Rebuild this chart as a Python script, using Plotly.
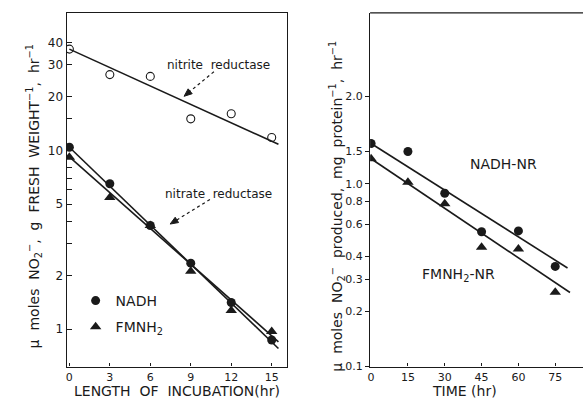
import math
import plotly.graph_objects as go

# ---------------- data ----------------
# Left panel: length of incubation (hr)
inc_hours = [0, 3, 6, 9, 12, 15]
nitrite_rate = [36.8, 26.5, 25.9, 15.0, 16.0, 11.8]
nadh_rate = [10.4, 6.5, 3.8, 2.34, 1.41, 0.87]
fmnh2_rate = [9.15, 5.45, 3.8, 2.11, 1.27, 0.97]
# fitted regression lines (end points)
left_fit_x = [0, 15.5]
nitrite_fit = [36.8, 10.8]
nadh_fit = [10.4, 0.78]
fmnh2_fit = [9.2, 0.85]

# Right panel: time (hr)
time_hours = [0, 15, 30, 45, 60, 75]
nadh_nr = [1.66, 1.50, 0.887, 0.546, 0.552, 0.353]
fmnh2_nr = [1.37, 1.02, 0.778, 0.449, 0.440, 0.255]
nadh_nr_fit_x = [0, 80]
nadh_nr_fit = [1.66, 0.346]
fmnh2_nr_fit_x = [0, 81]
fmnh2_nr_fit = [1.37, 0.254]

# tick labels
left_x_ticks = [0, 3, 6, 9, 12, 15]
left_y_tickvals = [1, 2, 5, 10, 20, 30, 40]
left_y_ticktext = ["1", "2", "5", "10", "20", "30", "40"]
left_y_minor = [3, 4, 6, 7, 8, 15]
right_x_ticks = [0, 15, 30, 45, 60, 75]
right_y_tickvals = [0.1, 0.2, 0.3, 0.4, 0.6, 0.8, 1.0, 1.5, 3.0]
right_y_ticktext = ["0.1", "0.2", "0.3", "0.4", "0.6", "0.8", "1.0", "1.5", "2.0"]

W, H = 583, 405
FONT = "DejaVu Sans"
INK = "#1a1a1a"
NB = "\u00a0"


def px(x):
    return x / W


def py(y):
    return 1 - y / H


fig = go.Figure()

# ---- left panel traces ----
for fit in (nitrite_fit, nadh_fit, fmnh2_fit):
    fig.add_trace(go.Scatter(x=left_fit_x, y=fit, mode="lines",
                             line=dict(color=INK, width=1.6), showlegend=False,
                             hoverinfo="skip", xaxis="x", yaxis="y"))
fig.add_trace(go.Scatter(x=inc_hours, y=nitrite_rate, mode="markers",
                         marker=dict(symbol="circle-open", size=8, color=INK,
                                     line=dict(width=1.1)),
                         showlegend=False, xaxis="x", yaxis="y"))
fig.add_trace(go.Scatter(x=inc_hours, y=nadh_rate, mode="markers", name="NADH",
                         legendgroup="a",
                         marker=dict(symbol="circle", size=9, color=INK),
                         xaxis="x", yaxis="y"))
fig.add_trace(go.Scatter(x=inc_hours, y=fmnh2_rate, mode="markers",
                         name="FMNH<sub>2</sub>", legendgroup="b",
                         marker=dict(symbol="triangle-up", size=10, color=INK),
                         xaxis="x", yaxis="y"))

# ---- right panel traces ----
fig.add_trace(go.Scatter(x=nadh_nr_fit_x, y=nadh_nr_fit, mode="lines",
                         line=dict(color=INK, width=1.6), showlegend=False,
                         hoverinfo="skip", xaxis="x2", yaxis="y2"))
fig.add_trace(go.Scatter(x=fmnh2_nr_fit_x, y=fmnh2_nr_fit, mode="lines",
                         line=dict(color=INK, width=1.6), showlegend=False,
                         hoverinfo="skip", xaxis="x2", yaxis="y2"))
fig.add_trace(go.Scatter(x=time_hours, y=nadh_nr, mode="markers",
                         marker=dict(symbol="circle", size=9, color=INK),
                         showlegend=False, xaxis="x2", yaxis="y2"))
fig.add_trace(go.Scatter(x=time_hours, y=fmnh2_nr, mode="markers",
                         marker=dict(symbol="triangle-up", size=10, color=INK),
                         showlegend=False, xaxis="x2", yaxis="y2"))

tickfont = dict(family=FONT, size=12, color=INK)
xtickfont = dict(family=FONT, size=11, color=INK)
ytick2font = dict(family=FONT, size=11, color=INK)
yd = [py(373), py(13)]

fig.update_layout(
    width=W, height=H,
    margin=dict(l=0, r=0, t=0, b=0),
    paper_bgcolor="white", plot_bgcolor="white",
    font=dict(family=FONT, color=INK),
    xaxis=dict(domain=[px(64), px(285)], range=[-0.2, 16.1],
               tickvals=left_x_ticks, ticks="inside", ticklen=3,
               tickcolor=INK, showline=True, linecolor=INK, linewidth=1.3,
               mirror=True, showgrid=False, zeroline=False, tickfont=xtickfont),
    yaxis=dict(domain=yd, type="log", range=[-0.209, 1.769],
               tickvals=left_y_tickvals, ticktext=left_y_ticktext,
               ticks="inside", ticklen=5, tickcolor=INK, showline=True,
               linecolor=INK, linewidth=1.3, mirror=True, showgrid=False,
               zeroline=False, tickfont=tickfont, anchor="x",
               minor=dict(tickmode="array", tickvals=left_y_minor,
                          ticks="inside", ticklen=5, tickcolor=INK,
                          showgrid=False)),
    xaxis2=dict(domain=[px(369), 1.0], range=[-0.4, 86.3],
                tickvals=right_x_ticks, ticks="inside", ticklen=3,
                tickcolor=INK, showline=True, linecolor=INK, linewidth=1.3,
                showgrid=False, zeroline=False, tickfont=xtickfont, anchor="y2"),
    yaxis2=dict(domain=yd, type="log", range=[-1.0, 0.935],
                tickvals=right_y_tickvals, ticktext=right_y_ticktext,
                ticks="outside", ticklen=4, tickcolor=INK, showline=True,
                linecolor=INK, linewidth=1.3, showgrid=False, zeroline=False,
                tickfont=ytick2font, anchor="x2"),
    legend=dict(x=px(73), y=py(290), xanchor="left", yanchor="top",
                bgcolor="rgba(0,0,0,0)", font=dict(family=FONT, size=14, color=INK),
                tracegroupgap=5),
    showlegend=True,
)

shapes = []
# top border of right panel
shapes.append(dict(type="line", xref="paper", yref="paper",
                   x0=px(369), x1=1.0, y0=py(13), y1=py(13),
                   line=dict(color=INK, width=1.3)))


def leader(x0, y0, x1, y1):
    """dotted leader line from (x0,y0) to an arrow tip at (x1,y1), pixel coords."""
    dx, dy = x1 - x0, y1 - y0
    L = math.hypot(dx, dy)
    ux, uy = dx / L, dy / L
    hl, hw = 8.0, 3.2
    bx, by = x1 - ux * hl, y1 - uy * hl
    pxn, pyn = -uy * hw, ux * hw
    shapes.append(dict(type="line", xref="paper", yref="paper",
                       x0=px(x0), y0=py(y0), x1=px(bx), y1=py(by),
                       line=dict(color=INK, width=1.2, dash="dot")))
    path = "M {:.5f},{:.5f} L {:.5f},{:.5f} L {:.5f},{:.5f} Z".format(
        px(x1), py(y1), px(bx + pxn), py(by + pyn), px(bx - pxn), py(by - pyn))
    shapes.append(dict(type="path", xref="paper", yref="paper", path=path,
                       fillcolor=INK, line=dict(color=INK, width=1)))


leader(212, 73, 182, 98)
leader(208, 203, 168, 228)
fig.update_layout(shapes=shapes)

annots = [
    dict(x=px(217), y=py(66), xref="paper", yref="paper", xanchor="center",
         yanchor="middle", text="nitrite" + NB + NB + "reductase", showarrow=False,
         font=dict(family=FONT, size=12, color=INK)),
    dict(x=px(217), y=py(197), xref="paper", yref="paper", xanchor="center",
         yanchor="middle", text="nitrate" + NB + NB + "reductase", showarrow=False,
         font=dict(family=FONT, size=12, color=INK)),
    dict(x=px(503), y=py(167), xref="paper", yref="paper", xanchor="center",
         yanchor="middle", text="NADH-NR", showarrow=False,
         font=dict(family=FONT, size=14, color=INK)),
    dict(x=px(458), y=py(280), xref="paper", yref="paper", xanchor="center",
         yanchor="middle", text="FMNH<sub>2</sub>-NR", showarrow=False,
         font=dict(family=FONT, size=14, color=INK)),
    # axis titles
    dict(x=px(175), y=py(398), xref="paper", yref="paper", xanchor="center",
         yanchor="middle",
         text=NB.join(["LENGTH", "", "OF", "", "INCUBATION(hr)"]),
         showarrow=False, font=dict(family=FONT, size=14, color=INK)),
    dict(x=px(464), y=py(398), xref="paper", yref="paper", xanchor="center",
         yanchor="middle", text="TIME (hr)", showarrow=False,
         font=dict(family=FONT, size=14, color=INK)),
    dict(x=px(31), y=py(200), xref="paper", yref="paper", textangle=-90,
         xanchor="center", yanchor="middle",
         text="μ  moles  NO<sub>2</sub><sup>−</sup>,  g  FRESH  WEIGHT<sup>−1</sup>,  hr<sup>−1</sup>",
         showarrow=False, font=dict(family=FONT, size=14, color=INK)),
    dict(x=px(336), y=py(210), xref="paper", yref="paper", textangle=-90,
         xanchor="center", yanchor="middle",
         text="μ  moles  NO<sub>2</sub><sup>−</sup>  produced,  mg  protein<sup>−1</sup>,  hr<sup>−1</sup>",
         showarrow=False, font=dict(family=FONT, size=14, color=INK)),
]
fig.update_layout(annotations=annots)

fig.write_html("out.html", config={"displayModeBar": False},
               post_script="document.body.style.margin='0';document.body.style.padding='0';")
